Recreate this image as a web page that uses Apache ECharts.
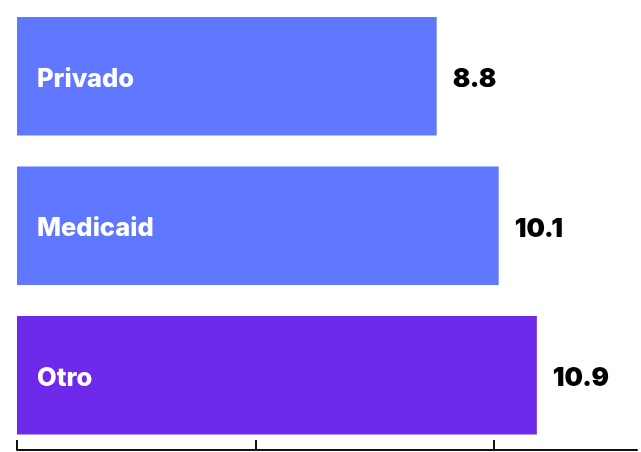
<!DOCTYPE html>
<html><head><meta charset="utf-8">
<script src="https://cdn.jsdelivr.net/npm/echarts@6/dist/echarts.min.js"></script>
<style>html,body{margin:0;padding:0;background:#fff}#c{width:641px;height:452px}</style>
</head><body><div id="c"></div>
<script>
const categories = ["Privado", "Medicaid", "Otro"];
const values = [8.8, 10.1, 10.9];
const barColors = ["#5F78FF", "#5F78FF", "#6E29EA"];
const tickValues = [0, 5, 10];

const chart = echarts.init(document.getElementById('c'), null, {renderer: 'canvas'});
chart.setOption({
  animation: false,
  grid: {left: 17, width: 620, top: 1.5, height: 448.5, containLabel: false},
  xAxis: {
    type: 'value', min: 0, max: 13, interval: 5,
    splitLine: {show: false},
    axisLabel: {show: false},
    axisLine: {show: true, lineStyle: {color: '#111', width: 2}},
    axisTick: {show: true, inside: true, length: 10, customValues: tickValues, lineStyle: {color: '#111', width: 2}}
  },
  yAxis: {
    type: 'category', data: categories, inverse: true,
    axisLine: {show: false}, axisTick: {show: false}, axisLabel: {show: false}
  },
  series: [{
    type: 'bar',
    barCategoryGap: '20.7%',
    data: values.map((v, i) => ({value: v, itemStyle: {color: barColors[i]}})),
    label: {
      show: true, position: 'right', distance: 16, offset: [0, 3],
      formatter: p => p.value.toFixed(1),
      color: '#000', fontFamily: 'Inter', fontWeight: 900, fontSize: 26
    }
  }, {
    type: 'bar',
    barGap: '-100%',
    barCategoryGap: '20.7%',
    data: values,
    itemStyle: {color: 'transparent'},
    silent: true,
    label: {
      show: true, position: 'insideLeft', distance: 20, offset: [0, 3],
      formatter: p => categories[p.dataIndex],
      color: '#fff', fontFamily: 'Inter', fontWeight: 800, fontSize: 25.5
    }
  }]
});
</script></body></html>
